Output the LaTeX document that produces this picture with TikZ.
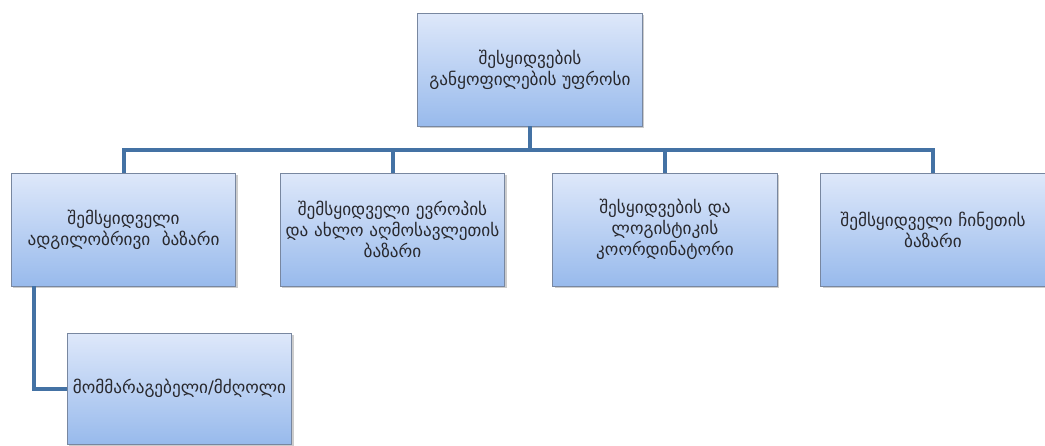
\documentclass[tikz,border=0pt]{standalone}
\usepackage{fontspec}
\setmainfont{DejaVu Sans}
\usepackage{tikz}
\usetikzlibrary{positioning,shadows}
\definecolor{linkblue}{RGB}{68,114,164}
\definecolor{boxtop}{RGB}{222,232,250}
\definecolor{boxbottom}{RGB}{152,186,236}
\definecolor{boxedge}{RGB}{120,135,160}
\definecolor{textgray}{RGB}{40,40,45}

\begin{document}
\begin{tikzpicture}[x=1pt,y=-1pt,
    post/.style={draw=boxedge, line width=0.8pt, top color=boxtop, bottom color=boxbottom,
      minimum width=224pt, minimum height=113pt, text width=218pt, align=center,
      text=textgray, font=\fontsize{17.2}{21}\selectfont,
      drop shadow={shadow xshift=2pt, shadow yshift=-2pt, opacity=0.4}},
    link/.style={draw=linkblue, line width=4pt}]
        \useasboundingbox (0,0) rectangle (1045,445);
        % head of the department
        \node[post] (head) at (530,69.5) {შესყიდვების\\განყოფილების უფროსი};
        % second row
        \node[post] (local) at (123.5,229.5) {შემსყიდველი\\ადგილობრივი \ ბაზარი};
        \node[post] (europe) at (392.5,229.5) {შემსყიდველი ევროპის\\და ახლო აღმოსავლეთის\\ბაზარი};
        \node[post] (logist) at (665,229.5) {შესყიდვების და\\ლოგისტიკის\\კოორდინატორი};
        \node[post] (china) at (933,229.5) {შემსყიდველი ჩინეთის\\ბაზარი};
        % third row
        \node[post, minimum height=111pt] (driver) at (179.5,388.5) {მომმარაგებელი/მძღოლი};
        % connectors
        \coordinate (bus) at (530,150);
        \draw[link] (head.south) -- (bus);
        \draw[link] (local.north) -- (local.north |- bus) -- (china.north |- bus) -- (china.north);
        \draw[link] (europe.north |- bus) -- (europe.north);
        \draw[link] (logist.north |- bus) -- (logist.north);
        \draw[link] ([xshift=23pt]local.south west) |- (driver.west);
    \end{tikzpicture}
\end{document}
